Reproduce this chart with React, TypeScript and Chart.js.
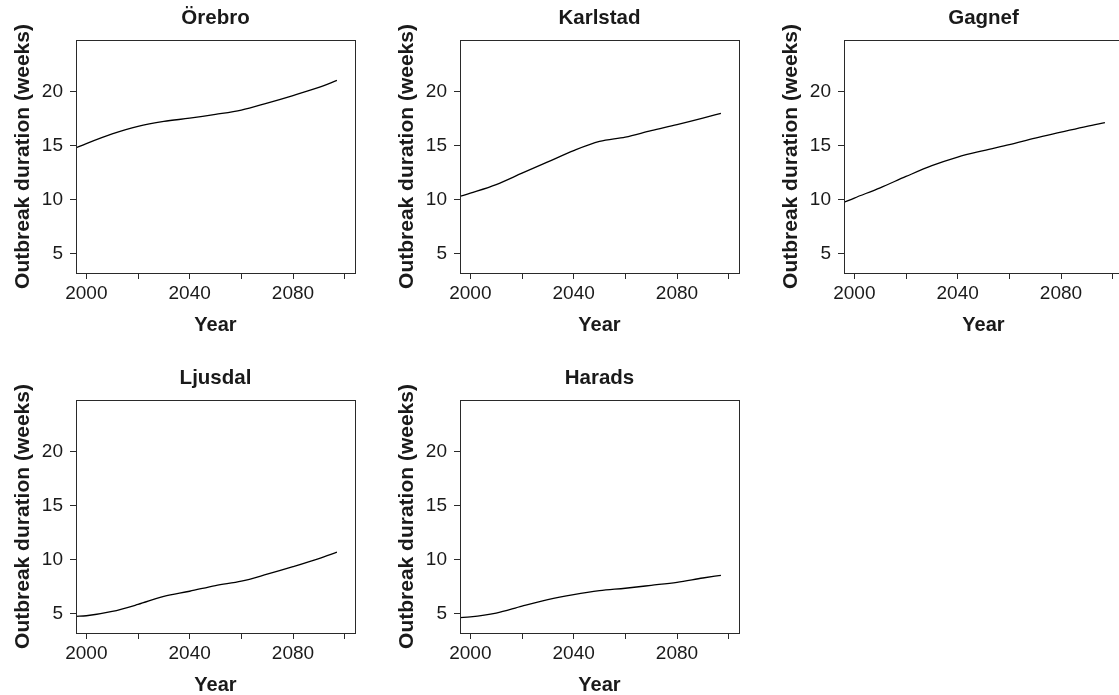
import React, { useEffect, useRef } from "react";
import { Chart, registerables } from "chart.js";

Chart.register(...registerables);

// ---- data ----
const years = [1996, 2000, 2010, 2020, 2030, 2040, 2050, 2060, 2070, 2080, 2090, 2097];
const orebro = [14.8, 15.2, 16.1, 16.8, 17.25, 17.55, 17.9, 18.3, 18.95, 19.65, 20.4, 21.05];
const karlstad = [10.3, 10.6, 11.4, 12.45, 13.5, 14.55, 15.4, 15.8, 16.4, 16.95, 17.55, 18.0];
const gagnef = [9.75, 10.15, 11.1, 12.15, 13.15, 13.95, 14.55, 15.1, 15.7, 16.25, 16.8, 17.15];
const ljusdal = [4.75, 4.8, 5.2, 5.85, 6.6, 7.07, 7.6, 8.0, 8.65, 9.35, 10.1, 10.7];
const harads = [4.63, 4.69, 5.05, 5.7, 6.3, 6.76, 7.12, 7.35, 7.62, 7.9, 8.3, 8.55];

const siteNames = ["Örebro", "Karlstad", "Gagnef", "Ljusdal", "Harads"];
const siteValues = [orebro, karlstad, gagnef, ljusdal, harads];

const yTicks = [5, 10, 15, 20];
const xTicks = [2000, 2020, 2040, 2060, 2080, 2100];
const xLabelled = [2000, 2040, 2080];
const yLabel = "Outbreak duration (weeks)";
const xLabel = "Year";

const FONT = '"Liberation Sans", Arial, Helvetica, sans-serif';
const INK = "#1a1a1a";
const AXIS = "#2a2a2a";

const CANVAS_W = 384;
const CANVAS_H = 360;
const colLefts = [0, 384, 768];
const rowTops = [0, 360];

const boxPlugin = {
  id: "plotBox",
  afterDraw(chart: any) {
    const { ctx, chartArea: a } = chart;
    ctx.save();
    ctx.strokeStyle = AXIS;
    ctx.lineWidth = 1;
    const l = Math.round(a.left) + 0.5;
    const t = Math.round(a.top) + 0.5;
    const r = Math.round(a.right) + 0.5;
    const b = Math.round(a.bottom) + 0.5;
    ctx.strokeRect(l, t, r - l, b - t);
    ctx.restore();
  },
};

function Panel({ name, values, left, top }: { name: string; values: number[]; left: number; top: number }) {
  const ref = useRef<HTMLCanvasElement | null>(null);
  useEffect(() => {
    if (!ref.current) return;
    const tickGrid = {
      display: true,
      drawOnChartArea: false,
      drawTicks: true,
      tickLength: 6,
      color: AXIS,
      lineWidth: 1,
    };
    const chart = new Chart(ref.current, {
      type: "line",
      data: {
        datasets: [
          {
            data: years.map((yr, i) => ({ x: yr, y: values[i] })),
            borderColor: "#000",
            borderWidth: 1.3,
            pointRadius: 0,
            cubicInterpolationMode: "monotone",
            fill: false,
          },
        ],
      },
      plugins: [boxPlugin],
      options: {
        animation: false,
        responsive: false,
        devicePixelRatio: 1,
        layout: { padding: { top: 0, left: 0, right: 29, bottom: 23 } },
        plugins: {
          legend: { display: false },
          tooltip: { enabled: false },
          title: { display: false },
        },
        scales: {
          x: {
            type: "linear",
            position: "bottom",
            min: 1996,
            max: 2104,
            afterBuildTicks: (s: any) => {
              s.ticks = xTicks.map((v) => ({ value: v }));
            },
            afterFit: (s: any) => {
              s.height = 64;
            },
            grid: tickGrid,
            border: { display: false },
            ticks: {
              padding: 3,
              color: INK,
              autoSkip: false,
              maxRotation: 0,
              font: { family: FONT, size: 19 },
              callback: (v: any) => (xLabelled.includes(Number(v)) ? String(v) : ""),
            },
            title: {
              display: true,
              text: xLabel,
              color: INK,
              font: { family: FONT, size: 20, weight: "bold" },
              padding: { top: 0, bottom: 0 },
            },
          },
          xT: {
            type: "linear",
            position: "top",
            min: 1996,
            max: 2104,
            afterFit: (s: any) => {
              s.height = 40;
            },
            grid: { display: false },
            border: { display: false },
            ticks: { display: false },
            title: {
              display: true,
              text: name,
              color: INK,
              font: { family: FONT, size: 20.5, weight: "bold" },
              padding: { top: 5.7, bottom: 0 },
            },
          },
          y: {
            type: "linear",
            position: "left",
            min: 3.2,
            max: 24.8,
            afterBuildTicks: (s: any) => {
              s.ticks = yTicks.map((v) => ({ value: v }));
            },
            afterFit: (s: any) => {
              s.width = 76;
            },
            grid: tickGrid,
            border: { display: false },
            ticks: {
              padding: 7,
              color: INK,
              font: { family: FONT, size: 19 },
              callback: (v: any) => String(v),
            },
            title: {
              display: true,
              text: yLabel,
              color: INK,
              font: { family: FONT, size: 21, weight: "bold" },
              padding: { top: 10.4, bottom: 0 },
            },
          },
        },
      } as any,
    });
    return () => chart.destroy();
  }, [name, values]);
  return (
    <canvas
      ref={ref}
      width={CANVAS_W}
      height={CANVAS_H}
      style={{ position: "absolute", left, top, width: CANVAS_W, height: CANVAS_H }}
    />
  );
}

export default function App() {
  return (
    <div
      style={{
        position: "absolute",
        left: 0,
        top: 0,
        width: 1119,
        height: 695,
        overflow: "hidden",
        background: "#fff",
      }}
    >
      {siteNames.map((n, i) => (
        <Panel
          key={n}
          name={n}
          values={siteValues[i]}
          left={colLefts[i % 3]}
          top={rowTops[Math.floor(i / 3)]}
        />
      ))}
    </div>
  );
}
